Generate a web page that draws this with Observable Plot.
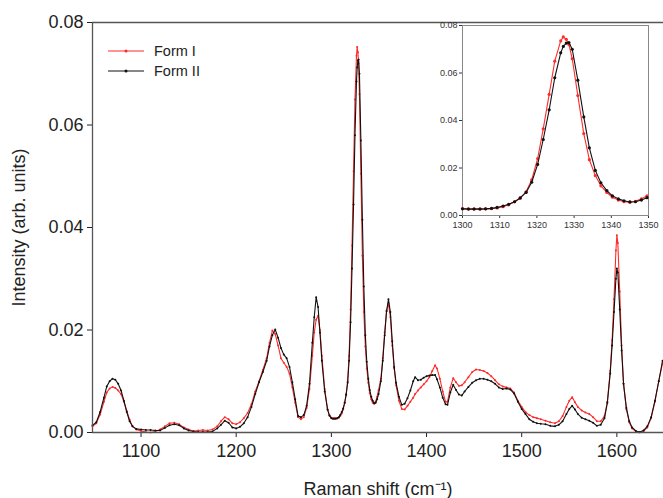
<!DOCTYPE html>
<html><head><meta charset="utf-8">
<script src="https://cdn.jsdelivr.net/npm/d3@7"></script>
<script src="https://cdn.jsdelivr.net/npm/@observablehq/plot@0.6"></script>
<style>
body{margin:0;background:#fff;font-family:Arial,"Liberation Sans",sans-serif;}
#wrap{position:relative;width:663px;height:498px;overflow:hidden;}
#inset{position:absolute;left:420px;top:15px;}
#legend{position:absolute;left:106px;top:41px;font-size:14.5px;color:#222;}
#legend .row{display:flex;align-items:center;height:20px;}
#legend svg{margin-right:8px;}
</style></head><body>
<div id="wrap"><div id="main"></div><div id="inset"></div><div id="legend"></div></div>
<script>
// Raman shift (cm^-1)
const shift = [
1049,1053,1057,1061,1064,1067,1070,1073,1076,1079,
1082,1085,1088,1091,1095,1100,1105,1110,1115,1120,
1125,1130,1135,1140,1145,1150,1155,1160,1165,1170,
1175,1180,1184,1188,1192,1196,1200,1204,1208,1212,
1216,1220,1224,1228,1232,1235,1238,1241,1244,1247,
1250,1253,1256,1259,1262,1265,1268,1271,1274,1277,
1280,1282,1284,1286,1288,1290,1293,1296,1298,
1300,1301.6,1303.1,1304.7,1306.2,1307.8,1309.3,1310.9,1312.4,1314,
1315.5,1317.1,1318.6,1320.2,1321.7,1323.3,1324.8,1326.4,1327.1,1327.9,
1328.6,1329.5,1331,1332.6,1334.1,1335.7,1337.2,1338.8,1340.3,1341.9,
1343.4,1345,1346.5,1348.1,1349.6,
1352,1354,1356,1358,1360,1362,1364,1366,1368,1371,
1374,1377,1380,1383,1386,1388,1391,1394,1397,1400,
1403,1406,1409,1411,1414,1417,1420,1422,1425,1428,
1431,1434,1437,1440,1444,1448,1452,1456,1460,1464,
1468,1472,1476,1480,1484,1488,1492,1496,1500,1504,
1508,1512,1516,1520,1525,1530,1535,1539,1543,1547,
1550,1553,1556,1559,1563,1567,1571,1575,1579,1583,
1587,1590,1593,1595,1597,1599,1600,1601,1603,1605,
1607,1610,1613,1616,1620,1624,1628,1632,1636,1640,
1644,1648
];
// Form I intensity (red)
const formI = [
.0012,.0018,.0035,.0060,.0078,.0086,.0089,.0087,.0082,.0075,
.0060,.0042,.0025,.0012,.0006,.0003,.0001,.0000,.0002,.0006,
.0012,.0018,.0019,.0016,.0010,.0006,.0003,.0004,.0005,.0004,
.0006,.0012,.0022,.0030,.0026,.0018,.0016,.0020,.0028,.0038,
.0055,.0080,.0100,.0122,.0145,.0175,.0199,.0192,.0170,.0145,
.0136,.0128,.0115,.0088,.0058,.0030,.0026,.0030,.0048,.0085,
.0150,.0195,.0220,.0228,.0200,.0150,.0085,.0045,.0033,
.0029,.0028,.0028,.0028,.0028,.0029,.0032,.0037,.0045,.0058,
.0073,.0100,.0150,.0240,.0365,.0510,.0650,.0735,.0752,.0742,
.0720,.0660,.0505,.0345,.0235,.0168,.0125,.0097,.0077,.0065,
.0058,.0056,.0060,.0070,.0083,
.0105,.0145,.0195,.0237,.0252,.0225,.0170,.0125,.0092,.0062,
.0046,.0045,.0052,.0060,.0068,.0075,.0082,.0088,.0094,.0100,
.0108,.0120,.0131,.0125,.0105,.0080,.0060,.0060,.0088,.0106,
.0098,.0091,.0092,.0098,.0108,.0118,.0123,.0122,.0120,.0116,
.0110,.0102,.0094,.0090,.0088,.0086,.0078,.0062,.0050,.0040,
.0034,.0030,.0028,.0026,.0023,.0020,.0018,.0022,.0032,.0050,
.0062,.0069,.0059,.0050,.0043,.0039,.0036,.0030,.0022,.0022,
.0032,.0060,.0120,.0180,.0260,.0355,.0385,.0370,.0275,.0170,
.0095,.0045,.0020,.0008,.0002,.0000,.0002,.0010,.0028,.0060,
.0100,.0135
];
// Form II intensity (black)
const formII = [
.0014,.0020,.0040,.0068,.0090,.0100,.0105,.0103,.0095,.0082,
.0062,.0040,.0022,.0012,.0007,.0006,.0005,.0005,.0004,.0004,
.0009,.0014,.0016,.0014,.0008,.0004,.0002,.0001,.0001,.0001,
.0002,.0008,.0015,.0023,.0019,.0010,.0008,.0011,.0018,.0030,
.0050,.0075,.0098,.0118,.0140,.0168,.0190,.0201,.0185,.0165,
.0152,.0145,.0128,.0098,.0065,.0032,.0030,.0034,.0052,.0095,
.0175,.0225,.0264,.0245,.0195,.0140,.0080,.0045,.0033,
.0028,.0027,.0027,.0027,.0028,.0030,.0034,.0040,.0047,.0058,
.0074,.0097,.0140,.0215,.0320,.0445,.0580,.0685,.0712,.0726,
.0728,.0700,.0570,.0415,.0285,.0190,.0138,.0105,.0083,.0070,
.0062,.0057,.0058,.0065,.0075,
.0100,.0140,.0190,.0237,.0260,.0235,.0178,.0128,.0097,.0070,
.0054,.0056,.0067,.0082,.0100,.0108,.0102,.0103,.0107,.0110,
.0111,.0112,.0112,.0104,.0088,.0068,.0055,.0054,.0078,.0093,
.0083,.0074,.0072,.0080,.0089,.0097,.0102,.0105,.0105,.0103,
.0100,.0095,.0088,.0085,.0086,.0084,.0076,.0060,.0046,.0036,
.0026,.0021,.0018,.0017,.0016,.0013,.0012,.0015,.0022,.0036,
.0046,.0052,.0045,.0036,.0029,.0026,.0023,.0019,.0013,.0015,
.0028,.0058,.0115,.0170,.0235,.0300,.0320,.0312,.0240,.0160,
.0095,.0048,.0022,.0010,.0003,.0001,.0004,.0012,.0030,.0062,
.0100,.0140
];
const seriesNames = ["Form I", "Form II"];
const seriesColors = ["#ff2b2b", "#111111"];
const xDomain = [1049, 1649];
const yDomain = [0, 0.08];
const xTicks = [1100, 1200, 1300, 1400, 1500, 1600];
const yTicks = [0, 0.02, 0.04, 0.06, 0.08];
const insetDomain = [1300, 1350];
const insetXTicks = [1300, 1310, 1320, 1330, 1340, 1350];

if (shift.length !== formI.length || shift.length !== formII.length)
  throw new Error("length mismatch " + shift.length + " " + formI.length + " " + formII.length);

const seriesData = [formI, formII].map((vals, k) =>
  shift.map((x, i) => ({x, y: vals[i], s: seriesNames[k]})));

const font = "Arial, 'Liberation Sans', sans-serif";

function seriesMarks(filterFn, r) {
  const m = [];
  seriesData.forEach((d, k) => {
    const dd = d.filter(filterFn);
    m.push(Plot.line(dd, {x: "x", y: "y", stroke: seriesColors[k], strokeWidth: 1.1}));
    m.push(Plot.dot(dd, {x: "x", y: "y", fill: seriesColors[k], r: r, stroke: "none"}));
  });
  return m;
}

const main = Plot.plot({
  width: 663, height: 498,
  marginLeft: 92, marginRight: 0, marginTop: 22, marginBottom: 66,
  style: {fontFamily: font, fontSize: "18px", color: "#222", background: "transparent"},
  x: {domain: xDomain, ticks: xTicks, tickFormat: d3.format("d"), tickSize: 5, tickPadding: 7,
      label: "Raman shift (cm⁻¹)", labelAnchor: "center", labelOffset: 62, labelArrow: "none"},
  y: {domain: yDomain, ticks: yTicks, tickFormat: d3.format(".2f"), tickSize: 5, tickPadding: 4,
      label: "Intensity (arb. units)", labelAnchor: "center", labelOffset: 80, labelArrow: "none"},
  marks: [
    ...seriesMarks(d => d.x >= xDomain[0] && d.x <= xDomain[1], 1),
    Plot.ruleX([xDomain[0]], {stroke: "#555", strokeWidth: 1.3}),
    Plot.ruleY([yDomain[0]], {stroke: "#555", strokeWidth: 1.3}),
    Plot.ruleY([yDomain[1]], {stroke: "#555", strokeWidth: 1.3})
  ]
});
document.getElementById("main").appendChild(main);

const inset = Plot.plot({
  width: 243, height: 220,
  marginLeft: 42, marginRight: 15, marginTop: 10, marginBottom: 20,
  style: {fontFamily: font, fontSize: "9px", color: "#333", background: "transparent"},
  x: {domain: insetDomain, ticks: insetXTicks, tickFormat: d3.format("d"), tickSize: 3, tickPadding: 3, label: null},
  y: {domain: yDomain, ticks: yTicks, tickFormat: d3.format(".2f"), tickSize: 3, tickPadding: 2, label: null},
  marks: [
    Plot.frame({stroke: "#888", strokeWidth: 1}),
    ...seriesMarks(d => d.x >= insetDomain[0] && d.x <= insetDomain[1], 1.6)
  ]
});
document.getElementById("inset").appendChild(inset);

const legend = document.getElementById("legend");
seriesNames.forEach((name, k) => {
  const row = document.createElement("div");
  row.className = "row";
  row.innerHTML = `<svg width="40" height="20"><line x1="2" x2="38" y1="10" y2="10" stroke="${seriesColors[k]}" stroke-width="1.2"/><circle cx="20" cy="10" r="1.5" fill="${seriesColors[k]}"/></svg><span>${name}</span>`;
  legend.appendChild(row);
});
</script>
</body></html>
